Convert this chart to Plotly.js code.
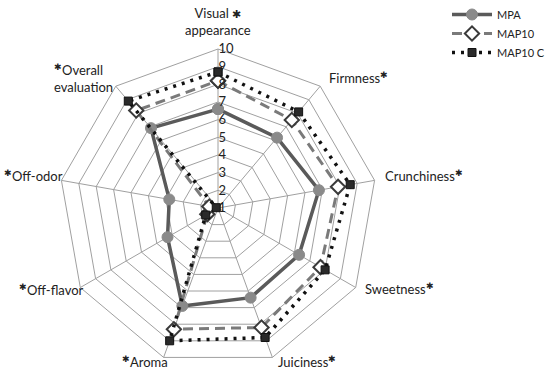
<!DOCTYPE html>
<html>
<head>
<meta charset="utf-8">
<script src="https://cdn.plot.ly/plotly-3.0.1.min.js"></script>
<style>html,body{margin:0;padding:0;background:#fff;}#chart{width:550px;height:375px;}</style>
</head>
<body>
<div id="chart"></div>
<script>
var categories = ["Visual appearance", "Firmness", "Crunchiness", "Sweetness", "Juiciness", "Aroma", "Off-flavor", "Off-odor", "Overall evaluation"];
var seriesNames = ["MPA", "MAP10", "MAP10 C"];
var mpa    = [6.6, 6.2, 6.8, 6.3, 6.4, 6.9, 4.3, 3.8, 6.9];
var map10  = [8.2, 7.5, 7.9, 7.7, 8.2, 8.3, 1.7, 1.5, 8.2];
var map10c = [8.7, 8.1, 8.6, 8.0, 8.8, 9.0, 1.8, 1.1, 8.9];
var radialTicks = [1, 2, 3, 4, 5, 6, 7, 8, 9, 10];

function closed(a) { return a.concat([a[0]]); }

var FONT = "Lato, 'Open Sans', sans-serif";
var traces = [
  {
    type: "scatterpolar", name: seriesNames[0], mode: "lines+markers",
    r: closed(mpa), theta: closed(categories),
    line: {color: "#5a5a5a", width: 3.5},
    marker: {symbol: "circle", size: 11, color: "#8a8a8a", line: {color: "#8a8a8a", width: 1}}
  },
  {
    type: "scatterpolar", name: seriesNames[1], mode: "lines+markers",
    r: closed(map10), theta: closed(categories),
    line: {color: "#7a7a7a", width: 3, dash: "10px,6px"},
    marker: {symbol: "diamond", size: 11, color: "#ffffff", line: {color: "#3a3a3a", width: 2}}
  },
  {
    type: "scatterpolar", name: seriesNames[2], mode: "lines+markers",
    r: closed(map10c), theta: closed(categories),
    line: {color: "#111111", width: 3.5, dash: "3px,6px"},
    marker: {symbol: "square", size: 8, color: "#2a2a2a", line: {color: "#111", width: 1}}
  }
];

var labelDefs = [
  {t: "Visual <span style='font-size:11px'>✱</span><br>appearance", x: 218, y: 22, xa: "center"},
  {t: "Firmness<sup>✱</sup>", x: 327, y: 77, xa: "left"},
  {t: "Crunchiness<sup>✱</sup>", x: 383, y: 175, xa: "left"},
  {t: "Sweetness<sup>✱</sup>", x: 363, y: 288, xa: "left"},
  {t: "Juiciness<sup>✱</sup>", x: 276, y: 361, xa: "left"},
  {t: "<sup>✱</sup>Aroma", x: 120, y: 361, xa: "left"},
  {t: "<sup>✱</sup>Off-flavor", x: 17, y: 289, xa: "left"},
  {t: "<sup>✱</sup>Off-odor", x: 2, y: 175, xa: "left"},
  {t: "<sup>✱</sup>Overall<br>evaluation", x: 52, y: 78, xa: "left"}
];
var annotations = labelDefs.map(function(d){
  return {text: d.t, xref: "paper", yref: "paper", x: d.x/550, y: 1 - d.y/375,
          xanchor: d.xa, yanchor: "middle", showarrow: false, align: d.xa === "center" ? "center" : "left",
          font: {family: FONT, size: 13, color: "#222"}};
});

var layout = {
  width: 550, height: 375,
  margin: {l: 0, r: 0, t: 0, b: 0},
  paper_bgcolor: "#fff",
  showlegend: true,
  legend: {x: 1.0, y: 1.0, xanchor: "right", yanchor: "top", font: {family: FONT, size: 11, color: "#222"},
           bgcolor: "rgba(0,0,0,0)", tracegroupgap: 0, itemwidth: 40},
  annotations: annotations,
  polar: {
    domain: {x: [59/550, 377/550], y: [8/375, 326/375]},
    gridshape: "linear",
    bgcolor: "#fff",
    radialaxis: {
      range: [1, 10], tickvals: radialTicks, ticktext: radialTicks.map(String),
      angle: 90, tickangle: 90, side: "clockwise", ticklabelstandoff: 10,
      showline: false, ticks: "", gridcolor: "#a0a0a0", gridwidth: 1,
      tickfont: {family: FONT, size: 13, color: "#222"}
    },
    angularaxis: {
      type: "category", categoryarray: categories, rotation: 90, direction: "clockwise",
      showticklabels: false, ticks: "", showline: true, linecolor: "#a0a0a0", linewidth: 1,
      gridcolor: "#a0a0a0", gridwidth: 1
    }
  }
};

Plotly.newPlot("chart", traces, layout, {staticPlot: true, displayModeBar: false});
</script>
</body>
</html>
